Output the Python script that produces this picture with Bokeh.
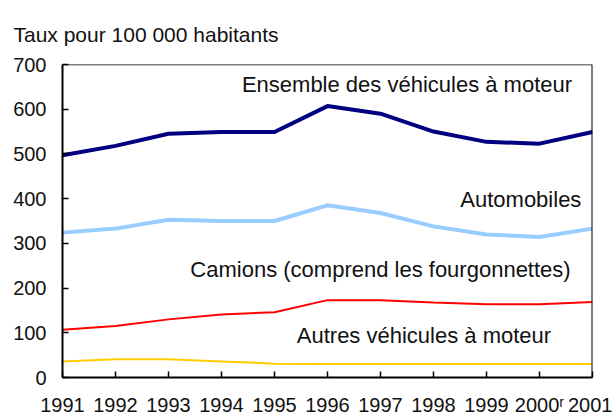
from bokeh.plotting import figure
from bokeh.models import Range1d, FixedTicker, Title, Span
from bokeh.core.properties import value
from bokeh.embed import file_html
from bokeh.resources import INLINE

years = [1991, 1992, 1993, 1994, 1995, 1996, 1997, 1998, 1999, 2000, 2001]
year_labels = ["1991", "1992", "1993", "1994", "1995", "1996", "1997", "1998", "1999", "2000ʳ", "2001"]
ensemble = [497, 518, 545, 549, 549, 607, 590, 550, 527, 523, 549]
automobiles = [324, 333, 353, 350, 350, 385, 368, 338, 320, 314, 333]
camions = [107, 115, 130, 141, 146, 173, 173, 168, 164, 164, 169]
autres = [36, 41, 41, 36, 31, 30, 30, 30, 30, 30, 30]
y_ticks = [0, 100, 200, 300, 400, 500, 600, 700]
y_title = "Taux pour 100 000 habitants"

series_names = ["Ensemble des véhicules à moteur", "Automobiles",
                "Camions (comprend les fourgonnettes)", "Autres véhicules à moteur"]
label_x = [1997.5, 2000.79, 1997.0, 1997.82]
label_y = [656, 397, 242, 93]
label_align = ["center", "right", "center", "center"]

FONT = "Liberation Sans"

p = figure(width=612, height=418, output_backend="svg", toolbar_location=None,
           x_range=Range1d(1991, 2001), y_range=Range1d(0, 700),
           min_border_left=62, min_border_right=20, min_border_top=64, min_border_bottom=39)

p.add_layout(Title(text=y_title, align="left", offset=-49,
                   text_font=FONT, text_font_size="21px", text_font_style="normal",
                   text_color="#111111", standoff=37), "above")

p.line(years, ensemble, line_color="#000080", line_width=4)
p.line(years, automobiles, line_color="#99CCFF", line_width=4)
p.line(years, camions, line_color="#FF0000", line_width=2)
p.line(years, autres, line_color="#FFCC00", line_width=2)

for name, lx, ly, al in zip(series_names, label_x, label_y, label_align):
    p.text(x=[lx], y=[ly], text=[name], text_align=al, text_baseline="middle",
           text_font=value(FONT), text_font_size="22px", text_color="#111111")

p.xgrid.visible = False
p.ygrid.visible = False
p.outline_line_color = None

p.add_layout(Span(location=y_ticks[-1], dimension="width", line_color="black", line_width=1.5))
p.add_layout(Span(location=years[-1], dimension="height", line_color="black", line_width=2))

xax = p.xaxis[0]
yax = p.yaxis[0]
xax.ticker = FixedTicker(ticks=years)
xax.major_label_overrides = {y: l for y, l in zip(years, year_labels)}
yax.ticker = FixedTicker(ticks=y_ticks)
for ax in (xax, yax):
    ax.axis_line_width = 2
    ax.axis_line_color = "black"
    ax.major_tick_in = 6
    ax.major_tick_out = 0
    ax.minor_tick_in = 0
    ax.minor_tick_out = 0
    ax.major_tick_line_width = 1.5
    ax.major_tick_line_color = "black"
    ax.major_label_text_font = FONT
    ax.major_label_text_font_size = "20px"
    ax.major_label_text_color = "#111111"
xax.major_label_standoff = 16
yax.major_label_standoff = 16

open("out.html", "w").write(file_html(p, INLINE))
